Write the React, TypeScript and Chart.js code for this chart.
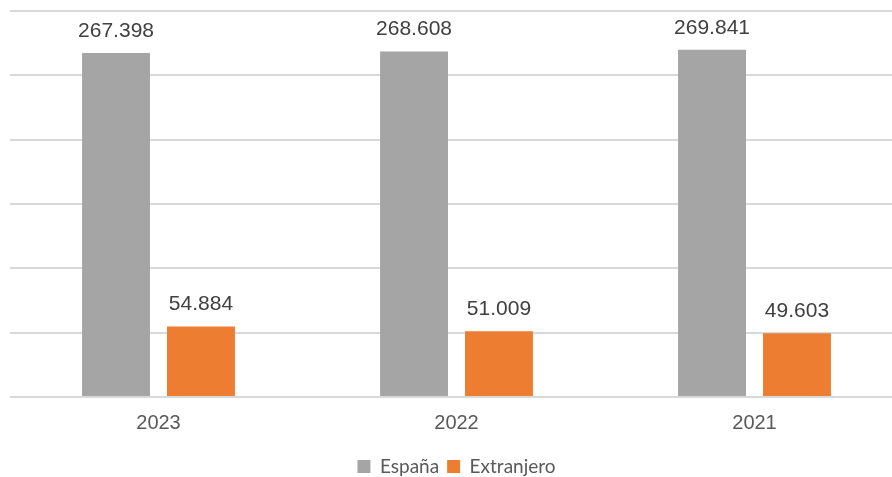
import React, { useEffect, useRef } from "react";
import { Chart, registerables } from "chart.js";

Chart.register(...registerables);

const categories = ["2023", "2022", "2021"];
const espana = [267398, 268608, 269841];
const extranjero = [54884, 51009, 49603];
const seriesNames = ["España", "Extranjero"];
const yTicks = [0, 50000, 100000, 150000, 200000, 250000, 300000];

const fmt = (v: number) => {
  const s = Math.round(v).toString();
  return s.replace(/\B(?=(\d{3})+(?!\d))/g, ".");
};

const labelPlugin = {
  id: "valueLabels",
  afterDatasetsDraw(chart: any) {
    const ctx = chart.ctx;
    ctx.save();
    ctx.font = '21px "Liberation Sans", Arial, sans-serif';
    ctx.fillStyle = "#404040";
    ctx.textAlign = "center";
    ctx.textBaseline = "alphabetic";
    chart.data.datasets.forEach((ds: any, i: number) => {
      const meta = chart.getDatasetMeta(i);
      meta.data.forEach((bar: any, j: number) => {
        ctx.fillText(fmt(ds.data[j]), bar.x, bar.y - 16);
      });
    });
    ctx.restore();
  },
};

export default function App() {
  const ref = useRef<HTMLCanvasElement>(null);
  useEffect(() => {
    document.body.style.margin = "0";
    document.documentElement.style.overflow = "hidden";
    document.body.style.overflow = "hidden";
    const chart = new Chart(ref.current!, {
      type: "bar",
      data: {
        labels: categories,
        datasets: [
          { label: seriesNames[0], data: espana, backgroundColor: "#A5A5A5" },
          { label: seriesNames[1], data: extranjero, backgroundColor: "#ED7D31" },
        ],
      },
      options: {
        animation: false,
        responsive: false,
        maintainAspectRatio: false,
        layout: { padding: { left: 9.5, right: 9.5, top: 11, bottom: 0 } },
        datasets: { bar: { categoryPercentage: 0.57, barPercentage: 0.8 } } as any,
        scales: {
          x: {
            grid: { display: false, drawTicks: false },
            border: { display: false },
            ticks: {
              font: { family: '"Liberation Sans", Arial, sans-serif', size: 20 },
              color: "#595959",
              padding: 14,
            },
          },
          y: {
            min: 0,
            max: 300000,
            afterBuildTicks: (axis: any) => {
              axis.ticks = yTicks.map((v) => ({ value: v }));
            },
            ticks: { display: false },
            grid: { color: "#D9D9D9", lineWidth: 2, drawTicks: false },
            border: { display: false },
          },
        },
        plugins: {
          legend: {
            position: "bottom",
            labels: {
              boxWidth: 13,
              boxHeight: 13,
              padding: 8,
              color: "#595959",
              font: { family: "Lato, 'Open Sans', sans-serif", size: 19 },
            },
          },
          tooltip: { enabled: false },
        },
      },
      plugins: [labelPlugin],
    });
    return () => chart.destroy();
  }, []);
  return <canvas ref={ref} width={913} height={486} style={{ display: "block" }} />;
}
